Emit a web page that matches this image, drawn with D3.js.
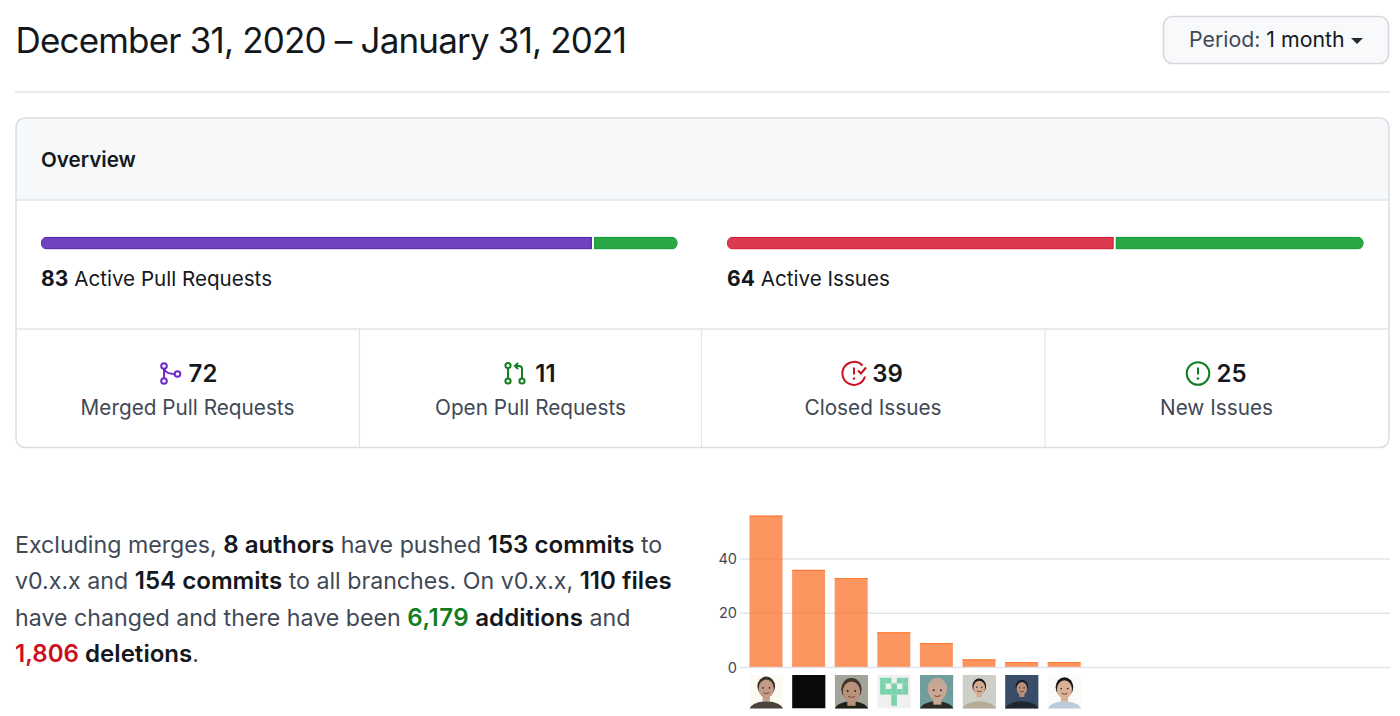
<!DOCTYPE html>
<html><head><meta charset="utf-8">
<script src="https://cdn.jsdelivr.net/npm/d3@7"></script>
<style>html,body{margin:0;padding:0;background:#fff;overflow:hidden}svg{display:block}text{font-family:Inter,"Noto Sans",sans-serif}</style>
</head><body><svg id="c" width="1400" height="716"></svg>
<script>
const titleText = "December 31, 2020 – January 31, 2021";
const authors = ["a1","a2","a3","a4","a5","a6","a7","a8"];
const commits = [56,36,33,13,9,3,2,2];
const commitTicks = [0,20,40];
const prSegments = [72,11];
const issueSegments = [39,25];
const statValues = ["72","11","39","25"];
const statLabels = ["Merged Pull Requests","Open Pull Requests","Closed Issues","New Issues"];

const svg = d3.select("#c");
const INK="#14181d", MUTED="#3f4956", LINE="#e1e4e8";

// header
svg.append("text").attr("x",15.5).attr("y",53).attr("font-size",35).attr("fill",INK).attr("letter-spacing",-0.82).text(titleText);
svg.append("rect").attr("x",1163.5).attr("y",16.5).attr("width",225).attr("height",47).attr("rx",9).attr("fill","#f8f9fb").attr("stroke","#d5d8dc").attr("stroke-width",1.5);
const per = svg.append("text").attr("x",1189).attr("y",47).attr("font-size",21.3).attr("fill",MUTED);
per.append("tspan").text("Period: ");
per.append("tspan").attr("fill",INK).text("1 month");
svg.append("path").attr("d","M1351 38h12l-6 6z").attr("fill","#24292e");
svg.append("line").attr("x1",15).attr("x2",1390).attr("y1",92).attr("y2",92).attr("stroke",LINE).attr("stroke-width",1.5);

// overview box
svg.append("path").attr("d","M16 200V127a9 9 0 0 1 9-9H1380a9 9 0 0 1 9 9V200Z").attr("fill","#f6f8fa");
svg.append("rect").attr("x",16).attr("y",118).attr("width",1373).attr("height",329.5).attr("rx",9).attr("fill","none").attr("stroke","#dadde1").attr("stroke-width",1.5);
[200,329].forEach(y=>svg.append("line").attr("x1",16).attr("x2",1389).attr("y1",y).attr("y2",y).attr("stroke",LINE).attr("stroke-width",1.5));
[359.5,701.5,1045].forEach(x=>svg.append("line").attr("x1",x).attr("x2",x).attr("y1",329).attr("y2",447).attr("stroke",LINE).attr("stroke-width",1.2));
svg.append("text").attr("x",41).attr("y",167).attr("font-size",20.6).attr("font-weight",600).attr("fill",INK).text("Overview");

// stacked progress bars
function progress(vals,x0,x1,cols,strokes,cid){
  const total=d3.sum(vals);
  const x=d3.scaleLinear().domain([0,total]).range([x0,x1]);
  const stacked=d3.cumsum(vals);
  svg.append("clipPath").attr("id",cid).append("rect").attr("x",x0).attr("y",236.8).attr("width",x1-x0).attr("height",12.6).attr("rx",6);
  const g=svg.append("g").attr("clip-path",`url(#${cid})`);
  vals.forEach((v,i)=>{
    const a=x(i?stacked[i-1]:0), b=x(stacked[i]);
    const s=a+(i?1.5:0), e=b-(i===vals.length-1?0:1.8);
    g.append("rect").attr("x",s).attr("y",237.4).attr("width",e-s).attr("height",11.4).attr("fill",cols[i]).attr("stroke",strokes[i]).attr("stroke-width",1.2);
  });
}
progress(prSegments,41,677.5,["#6f42c1","#28a745"],["#5126a8","#129c36"],"cp1");
progress(issueSegments,727,1363.5,["#dc3a4e","#28a745"],["#d01c30","#129c36"],"cp2");

function summary(x,n,label){
  const t=svg.append("text").attr("x",x).attr("y",286).attr("font-size",20.6).attr("fill",INK);
  t.append("tspan").attr("font-weight",700).attr("font-size",21).text(n);
  t.append("tspan").attr("dx",6).text(label);
}
summary(41,d3.sum(prSegments),"Active Pull Requests");
summary(727,d3.sum(issueSegments),"Active Issues");

// stat cells
const centers=[187.5,530.5,873,1216.5];
const iconCols=["#6f28c9","#0f7f22","#cb0f1f","#0f7f22"];
function icon(i){
  const g=svg.append("g").attr("fill","none").attr("stroke",iconCols[i]).attr("stroke-width",2);
  if(i===0){
    g.attr("transform","translate(164,0)");
    g.append("circle").attr("cx",0).attr("cy",366).attr("r",2.8);
    g.append("circle").attr("cx",0).attr("cy",381).attr("r",2.8);
    g.append("circle").attr("cx",13.5).attr("cy",374).attr("r",2.8);
    g.append("path").attr("d","M0 369V378M0.5 369C1.5 372 5 374 10.5 374");
  }
  if(i===1){
    g.attr("transform","translate(508,0)");
    g.append("circle").attr("cx",0).attr("cy",365.5).attr("r",2.6);
    g.append("circle").attr("cx",0).attr("cy",381).attr("r",2.6);
    g.append("circle").attr("cx",14).attr("cy",381).attr("r",2.6);
    g.append("path").attr("d","M0 368V378M14 378V369Q14 366 11 366H7M10 363L7 366L10 369");
  }
  if(i===2){
    g.attr("transform","translate(854,373.5)");
    g.append("path").attr("d","M8.5 -7.8A11.5 11.5 0 1 0 11 3");
    g.append("path").attr("d","M0 -6V1");
    g.append("circle").attr("cx",0).attr("cy",5).attr("r",1.2).attr("fill",iconCols[i]).attr("stroke","none");
    g.append("path").attr("d","M4 -3L7 0L12 -6");
  }
  if(i===3){
    g.attr("transform","translate(1198,373.5)");
    g.append("circle").attr("r",11.3);
    g.append("path").attr("d","M0 -6V1");
    g.append("circle").attr("cx",0).attr("cy",5).attr("r",1.3).attr("fill",iconCols[i]).attr("stroke","none");
  }
}
statValues.forEach((v,i)=>{
  const numX=[203,545.5,887.5,1231.5][i];
  svg.append("text").attr("x",numX).attr("y",381.5).attr("text-anchor","middle").attr("font-size",24).attr("font-weight",600).attr("fill",INK).text(v);
  icon(i);
  svg.append("text").attr("x",centers[i]).attr("y",415).attr("text-anchor","middle").attr("font-size",20.75).attr("fill",MUTED).text(statLabels[i]);
});

// paragraph
const para=[
 [["Excluding merges, ",0],["8 authors",1],[" have pushed ",0],["153 commits",1],[" to",0]],
 [["v0.x.x and ",0],["154 commits",1],[" to all branches. On v0.x.x, ",0],["110 files",1]],
 [["have changed and there have been ",0],["6,179",2],[" additions",1],[" and",0]],
 [["1,806",3],[" deletions",1],[".",0]]
];
para.forEach((ln,i)=>{
  const t=svg.append("text").attr("x",15).attr("y",553+i*36.4).attr("font-size",23.2).attr("fill",MUTED);
  ln.forEach(([s,k])=>{
    const ts=t.append("tspan").text(s).style("white-space","pre");
    if(k) ts.attr("font-weight",600).attr("font-size",24.1);
    if(k===1) ts.attr("fill",INK);
    if(k===2) ts.attr("fill","#0f7f22").attr("letter-spacing",0.5);
    if(k===3) ts.attr("fill","#cb0f1f");
  });
});

// bar chart
const y=d3.scaleLinear().domain([0,40]).range([667.5,559]);
const x=d3.scaleBand().domain(authors).range([749.5-4.8,749.5-4.8+42.6*8]).paddingInner(9.6/42.6).paddingOuter(4.8/42.6);
const axis=d3.axisLeft(y).tickValues(commitTicks).tickSize(0).tickPadding(0);
const ag=svg.append("g").attr("transform","translate(737,0)").call(axis);
ag.select(".domain").remove();
ag.selectAll("text").attr("font-size",14.5).attr("fill",MUTED).attr("font-family","Inter,'Noto Sans',sans-serif");
svg.append("g").selectAll("line").data(commitTicks).join("line")
  .attr("x1",740).attr("x2",1390).attr("y1",d=>y(d)).attr("y2",d=>y(d)).attr("stroke","#e1e4ea").attr("stroke-width",1.3);
svg.append("g").selectAll("rect").data(commits).join("rect")
  .attr("x",(d,i)=>x(authors[i])).attr("width",x.bandwidth())
  .attr("y",d=>y(d)).attr("height",d=>y(0)-y(d)-.6)
  .attr("fill","rgba(252,116,46,0.76)");
svg.append("g").selectAll("line").data(commits).join("line")
  .attr("x1",(d,i)=>x(authors[i])).attr("x2",(d,i)=>x(authors[i])+x.bandwidth())
  .attr("y1",d=>y(d)+.5).attr("y2",d=>y(d)+.5).attr("stroke","#fb7a30").attr("stroke-width",1);

// avatars (hand-drawn stand-ins)
const avY=675, avS=33.5;
const looks=[
 {bg:"#fbfbf1",skin:"#c49a84",hair:"#38302c",body:"#4a443e",hx:.5,hy:.38,r:.27},
 {bg:"#0a0a0a"},
 {bg:"#a3a59b",skin:"#b8917a",hair:"#40342c",body:"#20201b",hx:.5,hy:.47,r:.31},
 {bg:"#f0f0f0",id:true},
 {bg:"#6f9e9c",skin:"#c9a794",hair:"#bda99b",body:"#2c2a26",hx:.52,hy:.45,r:.3},
 {bg:"#cfcfc9",skin:"#d2ab90",hair:"#15151a",body:"#b5ad98",hx:.5,hy:.36,r:.21},
 {bg:"#3a4d68",skin:"#b89078",hair:"#12151b",body:"#1f2630",hx:.5,hy:.38,r:.19},
 {bg:"#fbfbf7",skin:"#d9b297",hair:"#15141a",body:"#bccbd9",hx:.5,hy:.4,r:.27}
];
const cells5=[[1,1,0,1,1],[1,0,1,0,1],[1,1,1,1,1],[0,0,1,0,0],[0,0,1,0,0]];
authors.forEach((a,i)=>{
  const l=looks[i], X=x(a), S=avS;
  const cid="av"+i;
  svg.append("clipPath").attr("id",cid).append("rect").attr("x",X).attr("y",avY).attr("width",S).attr("height",S);
  const g=svg.append("g").attr("clip-path",`url(#${cid})`);
  g.append("rect").attr("x",X).attr("y",avY).attr("width",S).attr("height",S).attr("fill",l.bg);
  if(l.id){
    const u=(S-5.6)/5;
    cells5.forEach((row,r)=>row.forEach((on,c)=>{
      if(on) g.append("rect").attr("x",X+2.8+c*u).attr("y",avY+2.8+r*u).attr("width",u+.1).attr("height",u+.1).attr("fill","#7bd3ac");
    }));
  } else if(l.skin){
    const cx=X+S*l.hx, cy=avY+S*l.hy, R=S*l.r;
    g.append("ellipse").attr("cx",X+S*.5).attr("cy",avY+S*1.08).attr("rx",S*.52).attr("ry",S*.3).attr("fill",l.body);
    g.append("rect").attr("x",cx-R*.4).attr("y",cy+R*.7).attr("width",R*.8).attr("height",R*.75).attr("fill",l.skin);
    g.append("ellipse").attr("cx",cx).attr("cy",cy-R*.15).attr("rx",R*.98).attr("ry",R*1.08).attr("fill",l.hair);
    g.append("ellipse").attr("cx",cx).attr("cy",cy+R*.12).attr("rx",R*.84).attr("ry",R*1.02).attr("fill",l.skin);
    [-.36,.36].forEach(d=>g.append("circle").attr("cx",cx+d*R).attr("cy",cy+R*.02).attr("r",Math.max(.7,R*.09)).attr("fill","#2a2220"));
    g.append("path").attr("d",`M${cx-R*.32} ${cy+R*.55}Q${cx} ${cy+R*.75} ${cx+R*.32} ${cy+R*.55}`).attr("fill","none").attr("stroke","#6e4a3e").attr("stroke-width",1);
  }
});
</script></body></html>
